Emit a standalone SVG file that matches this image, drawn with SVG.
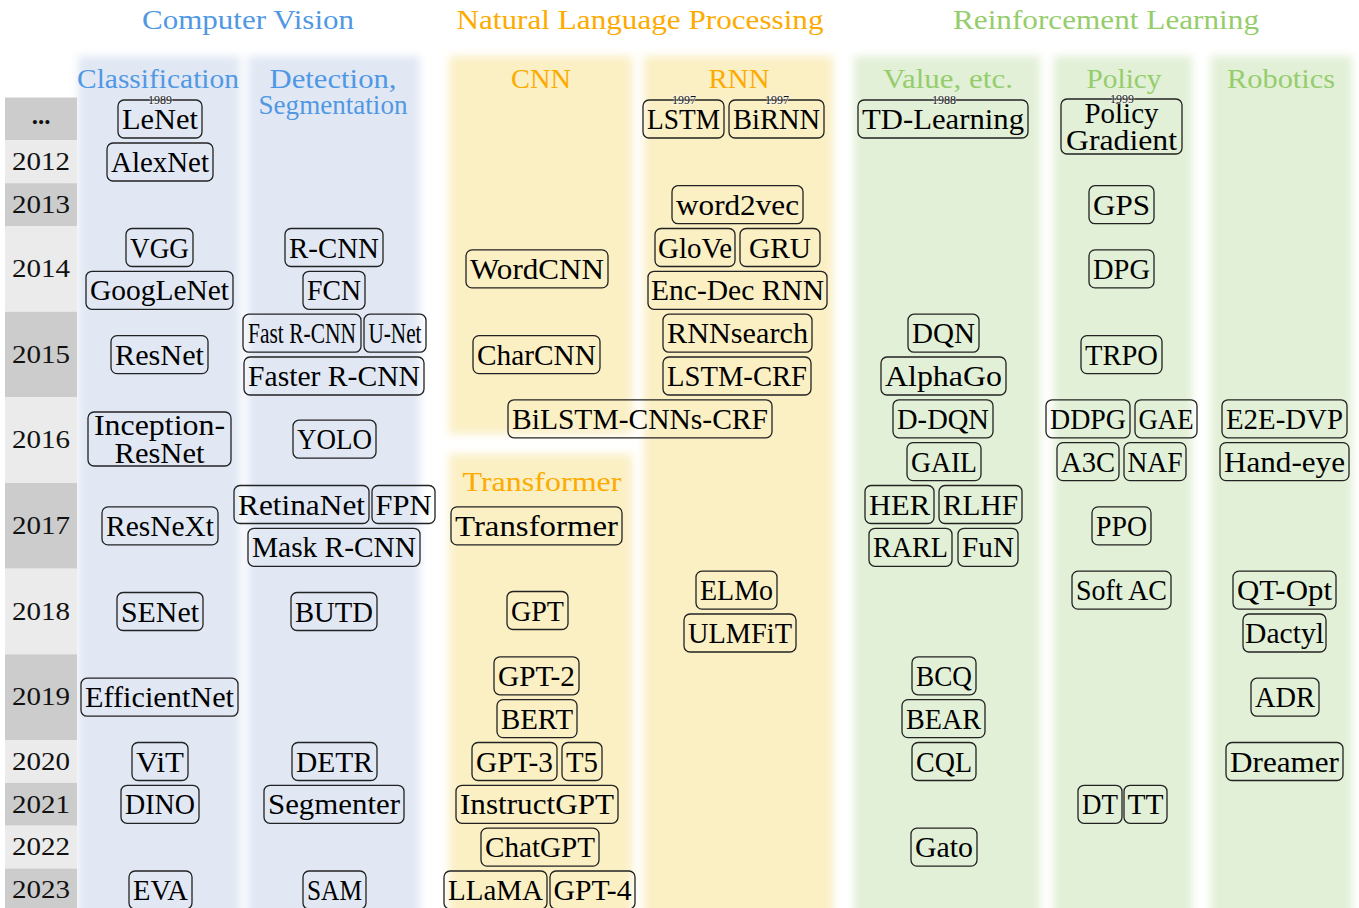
<svg xmlns="http://www.w3.org/2000/svg" width="1359" height="908" viewBox="0 0 1359 908" font-family="'Liberation Serif', 'DejaVu Serif', serif">
<style>
text{font-family:'Liberation Serif','DejaVu Serif',serif}
.h1{font-size:28px;text-anchor:middle}
.h2{font-size:28px;text-anchor:middle}
.cv{fill:#5098e4}
.nlp{fill:#fdab00}
.rl{fill:#95cd6c}
.yr{font-size:25px;text-anchor:middle;fill:#111}
.b rect{fill:none;stroke:#222;stroke-width:1.3}
.b text{font-size:29px;text-anchor:middle;fill:#000}
.b text.sup{font-size:12px;fill:#111;stroke:#ffffff;stroke-width:1.5;paint-order:stroke;stroke-opacity:0.6}
.bgb{fill:#e1e8f4}
.bgy{fill:#fbefc4}
.bgg{fill:#e2f0d7}
.yd{fill:#cccccc}
.yl{fill:#ebebeb}
</style>
<defs>
<filter id="soft" x="-10%" y="-10%" width="120%" height="120%"><feGaussianBlur stdDeviation="4"/></filter>
</defs>
<rect width="1359" height="908" fill="#ffffff"/>
<g id="backgrounds" filter="url(#soft)">
<rect class="bgb" x="78" y="56" width="162" height="870"/>
<rect class="bgb" x="248" y="56" width="172" height="870"/>
<rect class="bgy" x="449" y="56" width="183" height="378"/>
<rect class="bgy" x="449" y="454" width="183" height="470"/>
<rect class="bgy" x="644" y="56" width="189" height="870"/>
<rect class="bgg" x="854" y="56" width="186" height="870"/>
<rect class="bgg" x="1054" y="56" width="138" height="870"/>
<rect class="bgg" x="1211" y="56" width="141" height="870"/>
</g>
<g id="headers">
<text class="h1 cv" x="248" y="29" textLength="212" lengthAdjust="spacingAndGlyphs">Computer Vision</text>
<text class="h1 nlp" x="640" y="29" textLength="367" lengthAdjust="spacingAndGlyphs">Natural Language Processing</text>
<text class="h1 rl" x="1106" y="29" textLength="306" lengthAdjust="spacingAndGlyphs">Reinforcement Learning</text>
<text class="h2 cv" x="158" y="88" textLength="162" lengthAdjust="spacingAndGlyphs">Classification</text>
<text class="h2 cv" x="333" y="88" textLength="127" lengthAdjust="spacingAndGlyphs">Detection,</text>
<text class="h2 cv" x="333" y="114" font-size="26" textLength="149" lengthAdjust="spacingAndGlyphs">Segmentation</text>
<text class="h2 nlp" x="541" y="88" textLength="60" lengthAdjust="spacingAndGlyphs">CNN</text>
<text class="h2 nlp" x="739" y="88" textLength="61" lengthAdjust="spacingAndGlyphs">RNN</text>
<text class="h2 nlp" x="542" y="491" textLength="159" lengthAdjust="spacingAndGlyphs">Transformer</text>
<text class="h2 rl" x="948" y="88" textLength="130" lengthAdjust="spacingAndGlyphs">Value, etc.</text>
<text class="h2 rl" x="1124" y="88" textLength="75" lengthAdjust="spacingAndGlyphs">Policy</text>
<text class="h2 rl" x="1281" y="88" textLength="108" lengthAdjust="spacingAndGlyphs">Robotics</text>
</g>
<g id="years">
<rect class="yd" x="5" y="97.5" width="72" height="42.8"/>
<rect class="yl" x="5" y="140.3" width="72" height="42.9"/>
<rect class="yd" x="5" y="183.2" width="72" height="42.8"/>
<rect class="yl" x="5" y="226" width="72" height="85.7"/>
<rect class="yd" x="5" y="311.7" width="72" height="85.6"/>
<rect class="yl" x="5" y="397.3" width="72" height="85.7"/>
<rect class="yd" x="5" y="483" width="72" height="85.7"/>
<rect class="yl" x="5" y="568.7" width="72" height="85.6"/>
<rect class="yd" x="5" y="654.3" width="72" height="85.7"/>
<rect class="yl" x="5" y="740" width="72" height="42.8"/>
<rect class="yd" x="5" y="782.8" width="72" height="42.9"/>
<rect class="yl" x="5" y="825.7" width="72" height="42.8"/>
<rect class="yd" x="5" y="868.5" width="72" height="42"/>
<text class="yr" x="41" y="124" font-weight="bold">...</text>
<text class="yr" x="41" y="169.5" textLength="58" lengthAdjust="spacingAndGlyphs">2012</text>
<text class="yr" x="41" y="212.5" textLength="58" lengthAdjust="spacingAndGlyphs">2013</text>
<text class="yr" x="41" y="277" textLength="58" lengthAdjust="spacingAndGlyphs">2014</text>
<text class="yr" x="41" y="362.5" textLength="58" lengthAdjust="spacingAndGlyphs">2015</text>
<text class="yr" x="41" y="448" textLength="58" lengthAdjust="spacingAndGlyphs">2016</text>
<text class="yr" x="41" y="534" textLength="58" lengthAdjust="spacingAndGlyphs">2017</text>
<text class="yr" x="41" y="619.5" textLength="58" lengthAdjust="spacingAndGlyphs">2018</text>
<text class="yr" x="41" y="705" textLength="58" lengthAdjust="spacingAndGlyphs">2019</text>
<text class="yr" x="41" y="769.5" textLength="58" lengthAdjust="spacingAndGlyphs">2020</text>
<text class="yr" x="41" y="812.5" textLength="58" lengthAdjust="spacingAndGlyphs">2021</text>
<text class="yr" x="41" y="855" textLength="58" lengthAdjust="spacingAndGlyphs">2022</text>
<text class="yr" x="41" y="898" textLength="58" lengthAdjust="spacingAndGlyphs">2023</text>
</g>
<g id="nodes">
<g id="lenet" class="b"><rect x="118" y="100" width="84" height="38" rx="6"/><text x="160" y="129" textLength="76" lengthAdjust="spacingAndGlyphs">LeNet</text><text class="sup" x="160" y="104">1989</text></g>
<g id="alexnet" class="b"><rect x="107" y="143" width="106" height="38" rx="6"/><text x="160" y="172" textLength="98" lengthAdjust="spacingAndGlyphs">AlexNet</text></g>
<g id="vgg" class="b"><rect x="126" y="228.5" width="67" height="38" rx="6"/><text x="159.5" y="257.5" textLength="59" lengthAdjust="spacingAndGlyphs">VGG</text></g>
<g id="googlenet" class="b"><rect x="86" y="271.3" width="147" height="38" rx="6"/><text x="159.5" y="300.3" textLength="139" lengthAdjust="spacingAndGlyphs">GoogLeNet</text></g>
<g id="resnet" class="b"><rect x="111" y="335.6" width="97" height="38" rx="6"/><text x="159.5" y="364.6" textLength="89" lengthAdjust="spacingAndGlyphs">ResNet</text></g>
<g id="inception-resnet" class="b"><rect x="88" y="412" width="143" height="54" rx="6"/><text x="159.5" y="435" textLength="131" lengthAdjust="spacingAndGlyphs">Inception-</text><text x="159.5" y="463" textLength="90" lengthAdjust="spacingAndGlyphs">ResNet</text></g>
<g id="resnext" class="b"><rect x="102" y="506.9" width="116" height="38" rx="6"/><text x="160" y="535.9" textLength="108" lengthAdjust="spacingAndGlyphs">ResNeXt</text></g>
<g id="senet" class="b"><rect x="117" y="592.5" width="86" height="38" rx="6"/><text x="160" y="621.5" textLength="78" lengthAdjust="spacingAndGlyphs">SENet</text></g>
<g id="efficientnet" class="b"><rect x="81" y="678.2" width="157" height="38" rx="6"/><text x="159.5" y="707.2" textLength="149" lengthAdjust="spacingAndGlyphs">EfficientNet</text></g>
<g id="vit" class="b"><rect x="132" y="742.5" width="56" height="38" rx="6"/><text x="160" y="771.5" textLength="48" lengthAdjust="spacingAndGlyphs">ViT</text></g>
<g id="dino" class="b"><rect x="121" y="785.3" width="78" height="38" rx="6"/><text x="160" y="814.3" textLength="70" lengthAdjust="spacingAndGlyphs">DINO</text></g>
<g id="eva" class="b"><rect x="129" y="871" width="63" height="38" rx="6"/><text x="160.5" y="900" textLength="55" lengthAdjust="spacingAndGlyphs">EVA</text></g>
<g id="rcnn" class="b"><rect x="285" y="228.5" width="98" height="38" rx="6"/><text x="334" y="257.5" textLength="90" lengthAdjust="spacingAndGlyphs">R-CNN</text></g>
<g id="fcn" class="b"><rect x="303" y="271.3" width="62" height="38" rx="6"/><text x="334" y="300.3" textLength="54" lengthAdjust="spacingAndGlyphs">FCN</text></g>
<g id="fast-rcnn" class="b"><rect x="243" y="314.2" width="118" height="38" rx="6"/><text x="302" y="343.2" textLength="108" lengthAdjust="spacingAndGlyphs">Fast R-CNN</text></g>
<g id="unet" class="b"><rect x="364" y="314.2" width="62" height="38" rx="6"/><text x="395" y="343.2" textLength="53" lengthAdjust="spacingAndGlyphs">U-Net</text></g>
<g id="faster-rcnn" class="b"><rect x="244" y="357" width="180" height="38" rx="6"/><text x="334" y="386" textLength="172" lengthAdjust="spacingAndGlyphs">Faster R-CNN</text></g>
<g id="yolo" class="b"><rect x="293" y="420.2" width="83" height="38" rx="6"/><text x="334.5" y="449.2" textLength="75" lengthAdjust="spacingAndGlyphs">YOLO</text></g>
<g id="retinanet" class="b"><rect x="234" y="485.5" width="135" height="38" rx="6"/><text x="301.5" y="514.5" textLength="127" lengthAdjust="spacingAndGlyphs">RetinaNet</text></g>
<g id="fpn" class="b"><rect x="372" y="485.5" width="63" height="38" rx="6"/><text x="403.5" y="514.5" textLength="56" lengthAdjust="spacingAndGlyphs">FPN</text></g>
<g id="mask-rcnn" class="b"><rect x="248" y="528.3" width="172" height="38" rx="6"/><text x="334" y="557.3" textLength="164" lengthAdjust="spacingAndGlyphs">Mask R-CNN</text></g>
<g id="butd" class="b"><rect x="291" y="592.5" width="86" height="38" rx="6"/><text x="334" y="621.5" textLength="78" lengthAdjust="spacingAndGlyphs">BUTD</text></g>
<g id="detr" class="b"><rect x="292" y="742.5" width="85" height="38" rx="6"/><text x="334.5" y="771.5" textLength="77" lengthAdjust="spacingAndGlyphs">DETR</text></g>
<g id="segmenter" class="b"><rect x="264" y="785.3" width="140" height="38" rx="6"/><text x="334" y="814.3" textLength="132" lengthAdjust="spacingAndGlyphs">Segmenter</text></g>
<g id="sam" class="b"><rect x="303" y="871" width="63" height="38" rx="6"/><text x="334.5" y="900" textLength="55" lengthAdjust="spacingAndGlyphs">SAM</text></g>
<g id="wordcnn" class="b"><rect x="466" y="249.9" width="142" height="38" rx="6"/><text x="537" y="278.9" textLength="134" lengthAdjust="spacingAndGlyphs">WordCNN</text></g>
<g id="charcnn" class="b"><rect x="473" y="335.6" width="127" height="38" rx="6"/><text x="536.5" y="364.6" textLength="119" lengthAdjust="spacingAndGlyphs">CharCNN</text></g>
<g id="bilstm-cnns-crf" class="b"><rect x="508" y="399.8" width="264" height="38" rx="6"/><text x="640" y="428.8" textLength="256" lengthAdjust="spacingAndGlyphs">BiLSTM-CNNs-CRF</text></g>
<g id="lstm" class="b"><rect x="643" y="100" width="81" height="38" rx="6"/><text x="683.5" y="129" textLength="73" lengthAdjust="spacingAndGlyphs">LSTM</text><text class="sup" x="684" y="104">1997</text></g>
<g id="birnn" class="b"><rect x="729" y="100" width="95" height="38" rx="6"/><text x="776.5" y="129" textLength="87" lengthAdjust="spacingAndGlyphs">BiRNN</text><text class="sup" x="777" y="104">1997</text></g>
<g id="word2vec" class="b"><rect x="672" y="185.7" width="131" height="38" rx="6"/><text x="737.5" y="214.7" textLength="123" lengthAdjust="spacingAndGlyphs">word2vec</text></g>
<g id="glove" class="b"><rect x="655" y="228.5" width="80" height="38" rx="6"/><text x="695" y="257.5" textLength="74" lengthAdjust="spacingAndGlyphs">GloVe</text></g>
<g id="gru" class="b"><rect x="740" y="228.5" width="80" height="38" rx="6"/><text x="780" y="257.5" textLength="62" lengthAdjust="spacingAndGlyphs">GRU</text></g>
<g id="enc-dec-rnn" class="b"><rect x="648" y="271.3" width="179" height="38" rx="6"/><text x="737.5" y="300.3" textLength="173" lengthAdjust="spacingAndGlyphs">Enc-Dec RNN</text></g>
<g id="rnnsearch" class="b"><rect x="663" y="314.2" width="149" height="38" rx="6"/><text x="737.5" y="343.2" textLength="141" lengthAdjust="spacingAndGlyphs">RNNsearch</text></g>
<g id="lstm-crf" class="b"><rect x="663" y="357" width="148" height="38" rx="6"/><text x="737" y="386" textLength="140" lengthAdjust="spacingAndGlyphs">LSTM-CRF</text></g>
<g id="elmo" class="b"><rect x="696" y="571.1" width="81" height="38" rx="6"/><text x="736.5" y="600.1" textLength="73" lengthAdjust="spacingAndGlyphs">ELMo</text></g>
<g id="ulmfit" class="b"><rect x="684" y="614" width="112" height="38" rx="6"/><text x="740" y="643" textLength="104" lengthAdjust="spacingAndGlyphs">ULMFiT</text></g>
<g id="transformer" class="b"><rect x="451" y="506.9" width="171" height="38" rx="6"/><text x="536.5" y="535.9" textLength="163" lengthAdjust="spacingAndGlyphs">Transformer</text></g>
<g id="gpt" class="b"><rect x="507" y="591.5" width="61" height="38" rx="6"/><text x="537.5" y="620.5" textLength="53" lengthAdjust="spacingAndGlyphs">GPT</text></g>
<g id="gpt-2" class="b"><rect x="494" y="656.8" width="85" height="38" rx="6"/><text x="536.5" y="685.8" textLength="77" lengthAdjust="spacingAndGlyphs">GPT-2</text></g>
<g id="bert" class="b"><rect x="497" y="699.6" width="80" height="38" rx="6"/><text x="537" y="728.6" textLength="72" lengthAdjust="spacingAndGlyphs">BERT</text></g>
<g id="gpt-3" class="b"><rect x="472" y="742.5" width="85" height="38" rx="6"/><text x="514.5" y="771.5" textLength="77" lengthAdjust="spacingAndGlyphs">GPT-3</text></g>
<g id="t5" class="b"><rect x="562" y="742.5" width="40" height="38" rx="6"/><text x="582" y="771.5" textLength="32" lengthAdjust="spacingAndGlyphs">T5</text></g>
<g id="instructgpt" class="b"><rect x="456" y="785.3" width="162" height="38" rx="6"/><text x="537" y="814.3" textLength="154" lengthAdjust="spacingAndGlyphs">InstructGPT</text></g>
<g id="chatgpt" class="b"><rect x="481" y="828.1" width="118" height="38" rx="6"/><text x="540" y="857.1" textLength="110" lengthAdjust="spacingAndGlyphs">ChatGPT</text></g>
<g id="llama" class="b"><rect x="444" y="871" width="103" height="38" rx="6"/><text x="495.5" y="900" textLength="95" lengthAdjust="spacingAndGlyphs">LLaMA</text></g>
<g id="gpt-4" class="b"><rect x="550" y="871" width="85" height="38" rx="6"/><text x="592.5" y="900" textLength="78" lengthAdjust="spacingAndGlyphs">GPT-4</text></g>
<g id="td-learning" class="b"><rect x="858" y="100" width="170" height="38" rx="6"/><text x="943" y="129" textLength="162" lengthAdjust="spacingAndGlyphs">TD-Learning</text><text class="sup" x="944" y="104">1988</text></g>
<g id="dqn" class="b"><rect x="908" y="314.2" width="71" height="38" rx="6"/><text x="943.5" y="343.2" textLength="63" lengthAdjust="spacingAndGlyphs">DQN</text></g>
<g id="alphago" class="b"><rect x="881" y="357" width="125" height="38" rx="6"/><text x="943.5" y="386" textLength="117" lengthAdjust="spacingAndGlyphs">AlphaGo</text></g>
<g id="d-dqn" class="b"><rect x="893" y="399.8" width="100" height="38" rx="6"/><text x="943" y="428.8" textLength="92" lengthAdjust="spacingAndGlyphs">D-DQN</text></g>
<g id="gail" class="b"><rect x="907" y="442.6" width="74" height="38" rx="6"/><text x="944" y="471.6" textLength="66" lengthAdjust="spacingAndGlyphs">GAIL</text></g>
<g id="her" class="b"><rect x="865" y="485.5" width="69" height="38" rx="6"/><text x="899.5" y="514.5" textLength="61" lengthAdjust="spacingAndGlyphs">HER</text></g>
<g id="rlhf" class="b"><rect x="939" y="485.5" width="83" height="38" rx="6"/><text x="980.5" y="514.5" textLength="75" lengthAdjust="spacingAndGlyphs">RLHF</text></g>
<g id="rarl" class="b"><rect x="869" y="528.3" width="83" height="38" rx="6"/><text x="910.5" y="557.3" textLength="75" lengthAdjust="spacingAndGlyphs">RARL</text></g>
<g id="fun" class="b"><rect x="958" y="528.3" width="60" height="38" rx="6"/><text x="988" y="557.3" textLength="52" lengthAdjust="spacingAndGlyphs">FuN</text></g>
<g id="bcq" class="b"><rect x="912" y="656.8" width="64" height="38" rx="6"/><text x="944" y="685.8" textLength="56" lengthAdjust="spacingAndGlyphs">BCQ</text></g>
<g id="bear" class="b"><rect x="902" y="699.6" width="83" height="38" rx="6"/><text x="943.5" y="728.6" textLength="75" lengthAdjust="spacingAndGlyphs">BEAR</text></g>
<g id="cql" class="b"><rect x="912" y="742.5" width="64" height="38" rx="6"/><text x="944" y="771.5" textLength="56" lengthAdjust="spacingAndGlyphs">CQL</text></g>
<g id="gato" class="b"><rect x="911" y="828.1" width="66" height="38" rx="6"/><text x="944" y="857.1" textLength="58" lengthAdjust="spacingAndGlyphs">Gato</text></g>
<g id="policy-gradient" class="b"><rect x="1061" y="99" width="121" height="55" rx="6"/><text x="1121.5" y="123" textLength="74" lengthAdjust="spacingAndGlyphs">Policy</text><text x="1121.5" y="150" textLength="111" lengthAdjust="spacingAndGlyphs">Gradient</text><text class="sup" x="1122" y="103">1999</text></g>
<g id="gps" class="b"><rect x="1089" y="185.7" width="65" height="38" rx="6"/><text x="1121.5" y="214.7" textLength="57" lengthAdjust="spacingAndGlyphs">GPS</text></g>
<g id="dpg" class="b"><rect x="1089" y="249.9" width="65" height="38" rx="6"/><text x="1121.5" y="278.9" textLength="57" lengthAdjust="spacingAndGlyphs">DPG</text></g>
<g id="trpo" class="b"><rect x="1081" y="335.6" width="81" height="38" rx="6"/><text x="1121.5" y="364.6" textLength="73" lengthAdjust="spacingAndGlyphs">TRPO</text></g>
<g id="ddpg" class="b"><rect x="1046" y="399.8" width="84" height="38" rx="6"/><text x="1088" y="428.8" textLength="76" lengthAdjust="spacingAndGlyphs">DDPG</text></g>
<g id="gae" class="b"><rect x="1135" y="399.8" width="62" height="38" rx="6"/><text x="1166" y="428.8" textLength="55" lengthAdjust="spacingAndGlyphs">GAE</text></g>
<g id="a3c" class="b"><rect x="1057" y="442.6" width="62" height="38" rx="6"/><text x="1088" y="471.6" textLength="54" lengthAdjust="spacingAndGlyphs">A3C</text></g>
<g id="naf" class="b"><rect x="1124" y="442.6" width="62" height="38" rx="6"/><text x="1155" y="471.6" textLength="55" lengthAdjust="spacingAndGlyphs">NAF</text></g>
<g id="ppo" class="b"><rect x="1092" y="506.9" width="59" height="38" rx="6"/><text x="1121.5" y="535.9" textLength="51" lengthAdjust="spacingAndGlyphs">PPO</text></g>
<g id="soft-ac" class="b"><rect x="1072" y="571.1" width="99" height="38" rx="6"/><text x="1121.5" y="600.1" textLength="91" lengthAdjust="spacingAndGlyphs">Soft AC</text></g>
<g id="dt" class="b"><rect x="1078" y="785.3" width="44" height="38" rx="6"/><text x="1100" y="814.3" textLength="36" lengthAdjust="spacingAndGlyphs">DT</text></g>
<g id="tt" class="b"><rect x="1124" y="785.3" width="43" height="38" rx="6"/><text x="1145.5" y="814.3" textLength="36" lengthAdjust="spacingAndGlyphs">TT</text></g>
<g id="e2e-dvp" class="b"><rect x="1222" y="399.8" width="125" height="38" rx="6"/><text x="1284.5" y="428.8" textLength="117" lengthAdjust="spacingAndGlyphs">E2E-DVP</text></g>
<g id="hand-eye" class="b"><rect x="1220" y="442.6" width="129" height="38" rx="6"/><text x="1284.5" y="471.6" textLength="121" lengthAdjust="spacingAndGlyphs">Hand-eye</text></g>
<g id="qt-opt" class="b"><rect x="1233" y="571.1" width="103" height="38" rx="6"/><text x="1284.5" y="600.1" textLength="95" lengthAdjust="spacingAndGlyphs">QT-Opt</text></g>
<g id="dactyl" class="b"><rect x="1243" y="614" width="83" height="38" rx="6"/><text x="1284.5" y="643" textLength="79" lengthAdjust="spacingAndGlyphs">Dactyl</text></g>
<g id="adr" class="b"><rect x="1251" y="678.2" width="68" height="38" rx="6"/><text x="1285" y="707.2" textLength="60" lengthAdjust="spacingAndGlyphs">ADR</text></g>
<g id="dreamer" class="b"><rect x="1226" y="742.5" width="117" height="38" rx="6"/><text x="1284.5" y="771.5" textLength="109" lengthAdjust="spacingAndGlyphs">Dreamer</text></g>
</g>
<g id="connectors"/>
</svg>
